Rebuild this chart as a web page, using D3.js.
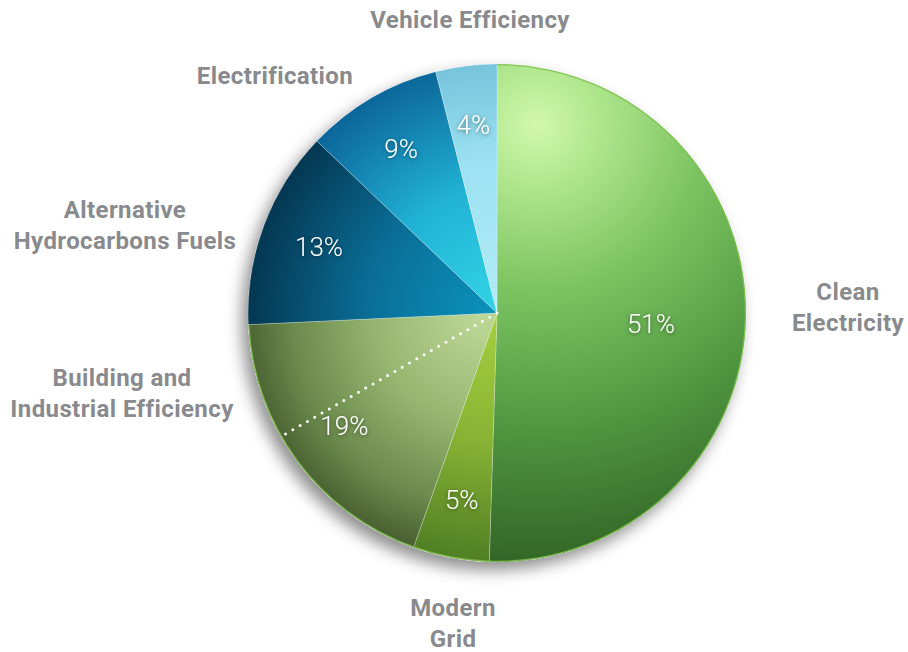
<!DOCTYPE html>
<html>
<head>
<meta charset="utf-8">
<script src="https://cdn.jsdelivr.net/npm/d3@7"></script>
<style>
  html, body { margin: 0; padding: 0; background: #ffffff; }
  svg { display: block; }
</style>
</head>
<body>
<svg id="chart" width="908" height="652"></svg>
<script>
// ---- data ----
const categories = ["Clean Electricity", "Modern Grid", "Building and Industrial Efficiency",
                    "Alternative Hydrocarbons Fuels", "Electrification", "Vehicle Efficiency"];
const values = [51, 5, 19, 13, 9, 4];
const percentLabels = ["51%", "5%", "19%", "13%", "9%", "4%"];
const labelLines = [["Clean", "Electricity"], ["Modern", "Grid"], ["Building and", "Industrial Efficiency"],
                    ["Alternative", "Hydrocarbons Fuels"], ["Electrification"], ["Vehicle Efficiency"]];
// dotted divider inside "Building and Industrial Efficiency" slice (share of the slice)
const buildingDividerShare = [0.6];

// ---- layout / style ----
const W = 908, H = 652;
const cx = 497, cy = 313, R = 249;
const svg = d3.select("#chart");
const defs = svg.append("defs");

const grads = [
  {cx: 537, cy: 125, r: 470, stops: [[0, "#d2f8ae"], [0.12, "#b2e890"], [0.35, "#7cc461"], [0.65, "#4f9640"], [1, "#2c5a20"]]},
  {cx: 497, cy: 313, r: 260, stops: [[0, "#a6d040"], [0.5, "#86b334"], [1, "#4b7a22"]]},
  {cx: 480, cy: 318, r: 250, stops: [[0, "#bcd896"], [0.4, "#98b872"], [0.75, "#6b8a4c"], [1, "#3f5529"]]},
  {cx: 497, cy: 313, r: 255, stops: [[0, "#0a93bd"], [0.5, "#0a6f98"], [1, "#04344e"]]},
  {cx: 497, cy: 300, r: 250, stops: [[0, "#31d2e4"], [0.45, "#21b2d6"], [1, "#0a5f94"]]},
  {cx: 497, cy: 313, r: 255, stops: [[0, "#b2ecf7"], [0.6, "#9ce1f2"], [1, "#74c2da"]]}
];
grads.forEach((g, i) => {
  const rg = defs.append("radialGradient").attr("id", "g" + i)
    .attr("gradientUnits", "userSpaceOnUse")
    .attr("cx", g.cx).attr("cy", g.cy).attr("r", g.r);
  g.stops.forEach(s => rg.append("stop").attr("offset", s[0]).attr("stop-color", s[1]));
});

const shadow = defs.append("filter").attr("id", "pieShadow")
  .attr("x", "-20%").attr("y", "-20%").attr("width", "140%").attr("height", "140%");
shadow.append("feDropShadow").attr("dx", -6).attr("dy", 8).attr("stdDeviation", 8)
  .attr("flood-color", "#000").attr("flood-opacity", 0.45);

const txtShadow = defs.append("filter").attr("id", "txtShadow")
  .attr("x", "-30%").attr("y", "-30%").attr("width", "160%").attr("height", "160%");
txtShadow.append("feDropShadow").attr("dx", 0).attr("dy", 1).attr("stdDeviation", 2)
  .attr("flood-color", "#000").attr("flood-opacity", 0.5);

const pie = d3.pie().sort(null).value(d => d)(values);
const arc = d3.arc().innerRadius(0).outerRadius(R);

const g = svg.append("g").attr("transform", `translate(${cx},${cy})`);

g.append("circle").attr("r", R).attr("fill", "#ffffff").attr("filter", "url(#pieShadow)");

svg.selectAll("path.slice").data(pie).enter().append("path")
  .attr("class", "slice")
  .attr("d", d => {
    const p = d3.path();
    const a0 = d.startAngle - Math.PI / 2, a1 = d.endAngle - Math.PI / 2;
    p.moveTo(cx, cy);
    p.lineTo(cx + R * Math.cos(a0), cy + R * Math.sin(a0));
    p.arc(cx, cy, R, a0, a1);
    p.closePath();
    return p.toString();
  })
  .attr("fill", (d, i) => `url(#g${i})`)
  .attr("stroke", "rgba(255,255,255,0.3)")
  .attr("stroke-width", 0.8);

const g2 = svg.append("g").attr("transform", `translate(${cx},${cy})`);

const rimArc = d3.arc().innerRadius(R - 1.3).outerRadius(R);
g2.selectAll("path.rim").data(pie.filter(d => d.index <= 2)).enter().append("path")
  .attr("class", "rim").attr("d", rimArc).attr("fill", "#7cc04a").attr("opacity", 0.85);

const b = pie[2];
buildingDividerShare.forEach(s => {
  const a = b.startAngle + (b.endAngle - b.startAngle) * s - Math.PI / 2;
  g2.append("line")
    .attr("x1", 0).attr("y1", 0)
    .attr("x2", (R - 3) * Math.cos(a)).attr("y2", (R - 3) * Math.sin(a))
    .attr("stroke", "#ffffff").attr("stroke-width", 3)
    .attr("stroke-linecap", "round").attr("stroke-dasharray", "0 8.4");
});

g2.selectAll("text.pct").data(pie).enter().append("text")
  .attr("class", "pct")
  .attr("x", d => { const r = d.index === 0 ? 154 : 190; const a = (d.startAngle + d.endAngle) / 2; return r * Math.sin(a); })
  .attr("y", d => { const r = d.index === 0 ? 154 : 190; const a = (d.startAngle + d.endAngle) / 2; return -r * Math.cos(a) + (d.index === 0 ? 8 : 0); })
  .attr("text-anchor", "middle").attr("dy", "0.36em")
  .attr("fill", "#ffffff").attr("font-family", "Roboto, 'Noto Sans', sans-serif")
  .attr("font-weight", 300).attr("font-size", 26)
  .attr("filter", "url(#txtShadow)")
  .text((d, i) => percentLabels[i]);

const labelPos = [[848, 292], [453, 608], [122, 378], [125, 210], [275, 76], [470, 20]];
labelLines.forEach((lines, i) => {
  const t = svg.append("text")
    .attr("text-anchor", "middle")
    .attr("fill", "#898a8e")
    .attr("font-family", "Roboto, 'Liberation Sans', sans-serif")
    .attr("font-weight", 700).attr("font-size", 24)
    .attr("letter-spacing", 0.4);
  lines.forEach((ln, j) => {
    t.append("tspan").attr("x", labelPos[i][0]).attr("y", labelPos[i][1] + j * 31)
      .attr("dy", "0.35em").text(ln);
  });
});
</script>
</body>
</html>
